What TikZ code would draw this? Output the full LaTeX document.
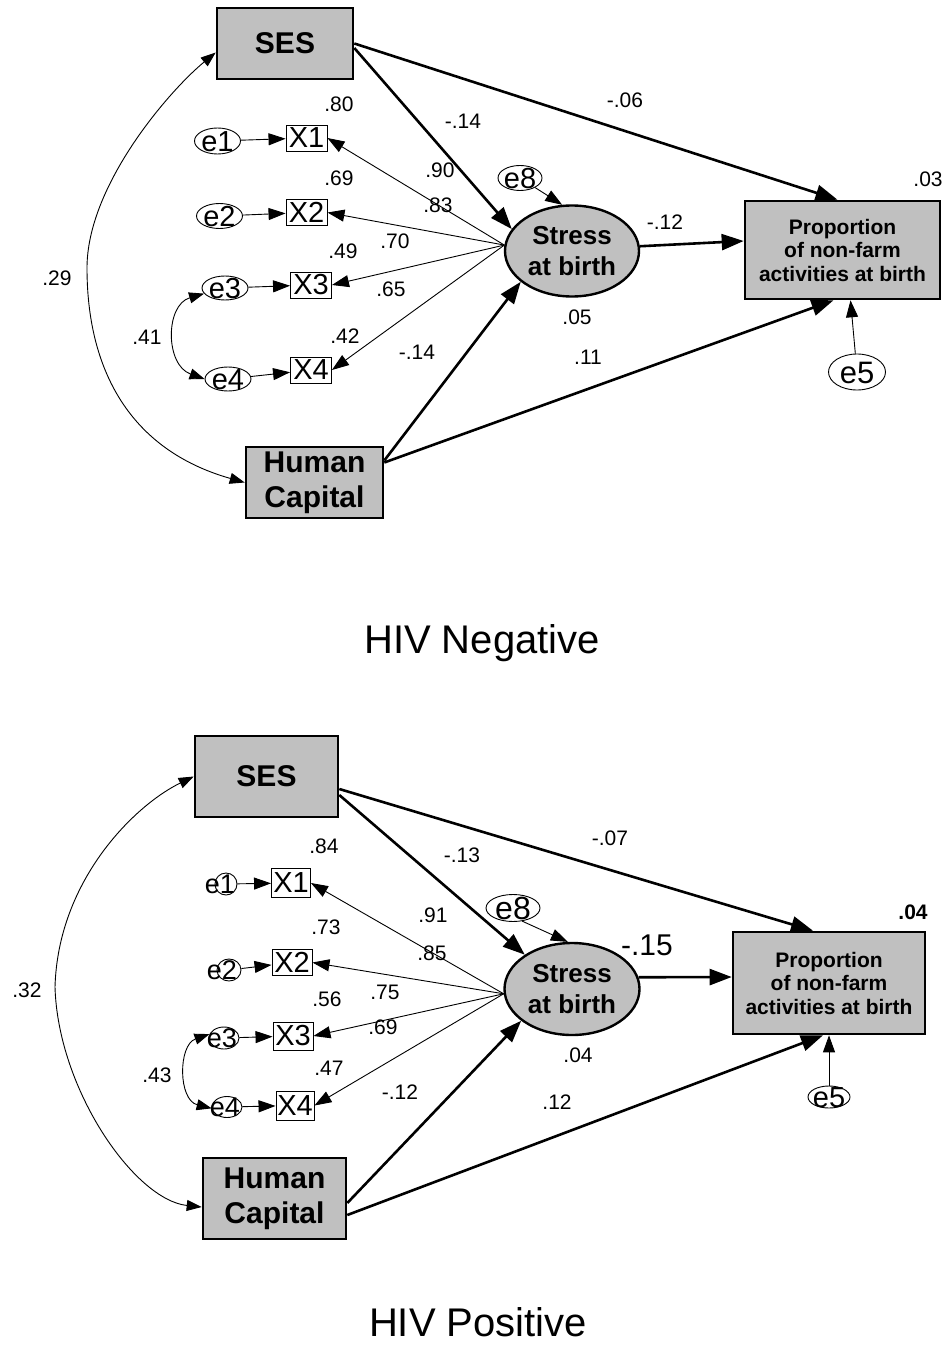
\documentclass[tikz,border=0pt]{standalone}
\usepackage{fontspec}
\setmainfont{Liberation Sans}
\usetikzlibrary{arrows.meta,shapes.geometric,calc}
\definecolor{boxgray}{HTML}{C0C0C0}

% text of zero size, centred on the node centre, shifted sideways by #1
\newcommand\errlabel[2]{\makebox[0pt]{\kern#1\kern#1\raisebox{-.36em}[0pt][0pt]{#2}}}

\tikzset{
  obs/.style={draw, line width=2.6pt, fill=boxgray, inner sep=0pt, align=center,
    font=\bfseries\fontsize{30}{35}\selectfont},
  outcome/.style={obs, font=\bfseries\fontsize{21}{23.5}\selectfont},
  latent/.style={ellipse, draw, line width=2.4pt, fill=boxgray, inner sep=0pt, align=center,
    font=\bfseries\fontsize{26}{31}\selectfont},
  ind/.style={draw, line width=0.9pt, fill=white, inner sep=0pt,
    minimum width=41pt, minimum height=26pt, font=\fontsize{29}{29}\selectfont},
  err/.style={ellipse, draw, line width=0.9pt, fill=white, inner sep=0pt,
    font=\fontsize{29}{29}\selectfont},
  coef/.style={inner sep=0pt, font=\fontsize{21}{21}\selectfont},
  heading/.style={inner sep=0pt, font=\fontsize{40}{40}\selectfont},
  effect/.style={line width=2.6pt, -{Triangle[length=22pt,width=16pt]}},
  thinpath/.style={line width=0.9pt, -{Triangle[length=17pt,width=12pt]}},
  cov/.style={line width=0.9pt, {Triangle[length=15pt,width=11pt]}-{Triangle[length=15pt,width=11pt]}},
}

\begin{document}
\begin{tikzpicture}[x=1pt, y=-1pt]
\fill[white] (0,0) rectangle (947,1348);
\useasboundingbox (0,0) rectangle (947,1348);

% ---------------- HIV negative model ----------------
\node[obs, minimum width=136pt, minimum height=71pt] (ses) at (285,43.5) {SES};
\node[obs, minimum width=137pt, minimum height=71pt] (hc) at (314.5,482.5) {Human\\Capital};
\node[latent, minimum width=134pt, minimum height=91pt] (stress) at (572,251) {Stress\\at birth};
\node[outcome, minimum width=195pt, minimum height=98pt] (prop) at (842.5,250) {Proportion\\of non-farm\\activities at birth};

\node[ind] (x1) at (306.5,138) {X1};
\node[ind] (x2) at (306.5,212.5) {X2};
\node[ind] (x3) at (311,285) {X3};
\node[ind] (x4) at (311,370) {X4};

\node[err, minimum width=46pt, minimum height=26pt] (e1) at (217.5,141) {\errlabel{0pt}{e1}};
\node[err, minimum width=46pt, minimum height=25pt] (e2) at (219.5,216) {\errlabel{0pt}{e2}};
\node[err, minimum width=46pt, minimum height=24pt] (e3) at (225,288) {\errlabel{0pt}{e3}};
\node[err, minimum width=46pt, minimum height=24pt] (e4) at (228,379) {\errlabel{0pt}{e4}};
\node[err, minimum width=44pt, minimum height=25pt] (e8) at (520,178) {\errlabel{0pt}{e8}};
\node[err, minimum width=57pt, minimum height=36pt, font=\fontsize{31}{31}\selectfont] (e5) at (857,372) {\errlabel{0pt}{e5}};

% structural paths
\draw[effect] ([yshift=-4.5pt]ses.east) -- (stress.160);
\draw[effect] (ses.east) -- ([xshift=-5pt]prop.north);
\draw[effect] ([yshift=22pt]hc.east) -- (stress.211);
\draw[effect] ([yshift=20pt]hc.east) -- ([xshift=-9pt]prop.south);
\draw[effect] (stress.4) -- ([yshift=9pt]prop.west);
\draw[thinpath] (e8) -- (stress.102);
\draw[thinpath] (e5) -- ([xshift=8pt]prop.south);

% measurement model
\draw[thinpath] (stress.175) -- (x1.east);
\draw[thinpath] (stress.175) -- (x2.east);
\draw[thinpath] (stress.175) -- (x3.east);
\draw[thinpath] (stress.175) -- (x4.east);
\draw[thinpath] (e1) -- (x1);
\draw[thinpath] (e2) -- (x2);
\draw[thinpath] (e3) -- (x3);
\draw[thinpath] (e4) -- (x4);

% covariances
\draw[cov] (e3.195) .. controls (165,305) and (165,365) .. (e4.180);
\draw[cov] (hc.west) .. controls (130,450) and (87,370) .. (87,268)
  .. controls (87,185) and (170,90) .. ([yshift=-9pt]ses.west);

% estimates
\node[coef] (n80) at (339,104) {.80};
\node[coef] (n14a) at (463,121) {-.14};
\node[coef] (n69) at (339,178) {.69};
\node[coef] (n90) at (440,170) {.90};
\node[coef] (n83) at (438,205) {.83};
\node[coef] (n70) at (395,241) {.70};
\node[coef] (n49) at (343,251) {.49};
\node[coef] (n65) at (391,289) {.65};
\node[coef] (n42) at (345,336) {.42};
\node[coef] (n14b) at (417,352) {-.14};
\node[coef] (n05) at (577,317) {.05};
\node[coef] (n11) at (588,357) {.11};
\node[coef] (n12) at (665,222) {-.12};
\node[coef] (n03) at (928,179) {.03};
\node[coef] (n06) at (625,100) {-.06};
\node[coef] (n29) at (57,278) {.29};
\node[coef] (n41) at (147,337) {.41};

\node[heading] (negtitle) at (482,643) {HIV Negative};

% ---------------- HIV positive model ----------------
\node[obs, minimum width=143pt, minimum height=81pt] (ses2) at (266.5,776.5) {SES};
\node[obs, minimum width=143pt, minimum height=81pt] (hc2) at (274.5,1198.5) {Human\\Capital};
\node[latent, minimum width=135pt, minimum height=92pt] (stress2) at (572,989) {Stress\\at birth};
\node[outcome, minimum width=192pt, minimum height=102pt] (prop2) at (829,983) {Proportion\\of non-farm\\activities at birth};

\node[ind, minimum width=39pt, minimum height=29pt] (x1b) at (291,883) {X1};
\node[ind, minimum width=40pt, minimum height=26pt] (x2b) at (292,962.5) {X2};
\node[ind, minimum width=40pt, minimum height=28pt] (x3b) at (293,1036) {X3};
\node[ind, minimum width=38pt, minimum height=29pt] (x4b) at (295,1105.5) {X4};

\node[err, minimum width=22pt, minimum height=22pt, font=\fontsize{27}{27}\selectfont] (e1b) at (226,884) {\errlabel{-6pt}{e1}};
\node[err, minimum width=24pt, minimum height=22pt, font=\fontsize{27}{27}\selectfont] (e2b) at (229,970) {\errlabel{-7pt}{e2}};
\node[err, minimum width=30pt, minimum height=22pt, font=\fontsize{27}{27}\selectfont] (e3b) at (224,1038) {\errlabel{-2pt}{e3}};
\node[err, minimum width=30pt, minimum height=21pt, font=\fontsize{27}{27}\selectfont] (e4b) at (227,1107) {\errlabel{-2pt}{e4}};
\node[err, minimum width=54pt, minimum height=27pt, font=\fontsize{32}{32}\selectfont] (e8b) at (513,908) {\errlabel{0pt}{e8}};
\node[err, minimum width=42pt, minimum height=22pt, font=\fontsize{29}{29}\selectfont] (e5b) at (829,1097) {\errlabel{0pt}{e5}};

% structural paths
\draw[effect] ([yshift=-18.5pt]ses2.east) -- (stress2.144);
\draw[effect] ([yshift=-12.5pt]ses2.east) -- ([xshift=-16pt]prop2.north);
\draw[effect] ([yshift=-4.5pt]hc2.east) -- (stress2.212);
\draw[effect] ([yshift=-16.5pt]hc2.east) -- ([xshift=-6pt]prop2.south);
\draw[effect] (stress2.10) -- ([yshift=6pt]prop2.west);
\draw[thinpath] (e8b.-55) -- (stress2.95);
\draw[thinpath] (e5b) -- (prop2.south);

% measurement model
\draw[thinpath] (stress2.184) -- (x1b.east);
\draw[thinpath] (stress2.184) -- (x2b.east);
\draw[thinpath] (stress2.184) -- (x3b.east);
\draw[thinpath] (stress2.184) -- (x4b.east);
\draw[thinpath] (e1b) -- (x1b);
\draw[thinpath] (e2b) -- (x2b);
\draw[thinpath] (e3b) -- (x3b);
\draw[thinpath] (e4b) -- (x4b);

% covariances
\draw[cov] (e3b.165) .. controls (178,1045) and (178,1100) .. (e4b.185);
\draw[cov] ([yshift=-8.5pt]hc2.west) .. controls (135,1200) and (58,1090) .. (55,987)
  .. controls (58,880) and (135,805) .. (ses2.west);

% estimates
\node[coef] (p84) at (324,846) {.84};
\node[coef] (p13) at (462,855) {-.13};
\node[coef] (p73) at (326,927) {.73};
\node[coef] (p91) at (433,915) {.91};
\node[coef] (p85) at (432,953) {.85};
\node[coef] (p56) at (327,999) {.56};
\node[coef] (p75) at (385,992) {.75};
\node[coef] (p69) at (383,1027) {.69};
\node[coef] (p47) at (329,1068) {.47};
\node[coef] (p12a) at (400,1092) {-.12};
\node[coef] (p04a) at (578,1055) {.04};
\node[coef] (p12b) at (557,1102) {.12};
\node[coef, font=\fontsize{30}{30}\selectfont] (p15) at (647,945) {-.15};
\node[coef, font=\bfseries\fontsize{21}{21}\selectfont] (p04b) at (913,912) {.04};
\node[coef] (p07) at (610,838) {-.07};
\node[coef] (p32) at (27,990) {.32};
\node[coef] (p43) at (157,1075) {.43};

\node[heading] (postitle) at (478,1322) {HIV Positive};
\end{tikzpicture}
\end{document}
